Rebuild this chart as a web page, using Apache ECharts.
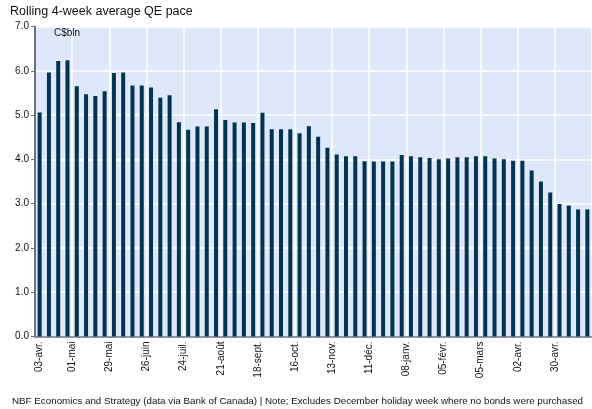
<!DOCTYPE html>
<html>
<head>
<meta charset="utf-8">
<script src="https://cdn.jsdelivr.net/npm/echarts@6/dist/echarts.min.js"></script>
<style>
  html, body { margin: 0; padding: 0; background: #fff; }
  #chart { width: 592px; height: 409px; }
</style>
</head>
<body>
<div id="chart"></div>
<script>
var weeks = ['03-avr.','10-avr.','17-avr.','24-avr.','01-mai','08-mai','15-mai','22-mai','29-mai','05-juin',
  '12-juin','19-juin','26-juin','03-juil.','10-juil.','17-juil.','24-juil.','31-juil.','07-août','14-août',
  '21-août','28-août','04-sept.','11-sept.','18-sept.','25-sept.','02-oct.','09-oct.','16-oct.','23-oct.',
  '30-oct.','06-nov.','13-nov.','20-nov.','27-nov.','04-déc.','11-déc.','18-déc.','25-déc.','01-janv.',
  '08-janv.','15-janv.','22-janv.','29-janv.','05-févr.','12-févr.','19-févr.','26-févr.','05-mars','12-mars',
  '19-mars','26-mars','02-avr.','09-avr.','16-avr.','23-avr.','30-avr.','07-mai','14-mai','21-mai'];

// rolling 4-week average, C$ bln
var qePace = [5.06,5.96,6.22,6.24,5.65,5.47,5.43,5.54,5.95,5.96,
  5.67,5.67,5.62,5.39,5.45,4.84,4.67,4.74,4.74,5.13,
  4.89,4.83,4.83,4.82,5.05,4.68,4.68,4.68,4.59,4.75,
  4.51,4.26,4.11,4.07,4.07,3.96,3.95,3.95,3.95,4.10,
  4.07,4.05,4.03,4.00,4.02,4.05,4.05,4.07,4.07,4.02,
  4.00,3.97,3.97,3.75,3.50,3.25,2.99,2.96,2.87,2.87];

var yTicks = [0, 7, 1]; // min, max, step

var chart = echarts.init(document.getElementById('chart'));
var font = 'Liberation Sans, Arial, sans-serif';

chart.setOption({
  animation: false,
  textStyle: { fontFamily: font },
  title: [
    { text: 'Rolling 4-week average QE pace', left: 10, top: 5, padding: 0,
      textStyle: { fontSize: 12.5, fontWeight: 'normal', color: '#111', fontFamily: font } },
    { text: 'C$bln', left: 54, top: 28, padding: 0,
      textStyle: { fontSize: 10, fontWeight: 'normal', color: '#111', fontFamily: font } },
    { text: 'NBF Economics and Strategy (data via Bank of Canada) | Note; Excludes December holiday week where no bonds were purchased',
      left: 12, top: 396, padding: 0,
      textStyle: { fontSize: 9.8, fontWeight: 'normal', color: '#111', fontFamily: font } }
  ],
  grid: {
    left: 35, right: -4, top: 26.5, bottom: 72.5,
    show: true, backgroundColor: '#dde9fb', borderWidth: 0
  },
  xAxis: {
    type: 'category',
    data: weeks,
    boundaryGap: true,
    axisLine: { lineStyle: { color: '#6e747c', width: 1.5 } },
    axisTick: { interval: 3, length: 4, lineStyle: { color: '#6e747c' } },
    axisLabel: { interval: 3, rotate: 90, fontSize: 10, color: '#111', margin: 5,
      lineHeight: 9,
      // second empty line nudges the label onto the tick at the slot's left edge
      formatter: function (v, i) { return i === 0 ? v : v + '\n '; } },
    splitLine: { show: true, interval: 3, lineStyle: { color: '#ffffff', width: 1.5 } }
  },
  yAxis: {
    type: 'value',
    min: yTicks[0], max: yTicks[1], interval: yTicks[2],
    axisLine: { show: true, lineStyle: { color: '#6e747c', width: 2 } },
    axisTick: { show: true, length: 4, lineStyle: { color: '#6e747c' } },
    axisLabel: { fontSize: 10, color: '#111', margin: 6,
      formatter: function (v) { return v.toFixed(1); } },
    splitLine: { lineStyle: { color: '#ffffff', width: 1.5 } }
  },
  series: [{
    type: 'bar',
    data: qePace,
    barWidth: 4,
    itemStyle: { color: '#05324f' }
  }]
});
</script>
</body>
</html>
